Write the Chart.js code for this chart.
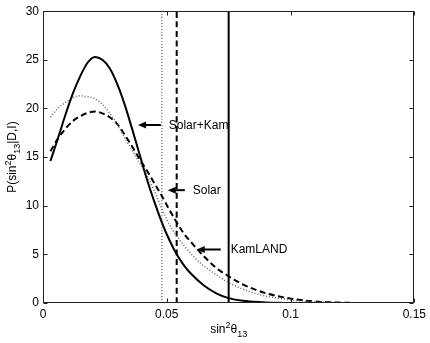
<!DOCTYPE html>
<html>
<head>
<meta charset="utf-8">
<script src="https://cdn.jsdelivr.net/npm/chart.js@4.4.1/dist/chart.umd.min.js"></script>
<style>
  html, body { margin: 0; padding: 0; background: #fff; }
  #wrap { width: 430px; height: 343px; }
</style>
</head>
<body>
<div id="wrap"><canvas id="chart"></canvas></div>
<script>
// sin^2(theta13) grid
const xs = [0.003, 0.006, 0.009, 0.012, 0.015, 0.018, 0.021, 0.024, 0.027, 0.030,
            0.033, 0.036, 0.039, 0.042, 0.045, 0.048, 0.051, 0.054, 0.057, 0.060,
            0.065, 0.070, 0.075, 0.080, 0.085, 0.090, 0.095, 0.100, 0.105, 0.110,
            0.115, 0.120, 0.130, 0.140, 0.150];

// posteriors P(sin^2 theta13 | D,I)
const solarKam = [14.6, 16.9, 19.3, 21.5, 23.3, 24.7, 25.3, 25.0, 24.1, 22.5,
                  20.4, 17.9, 15.3, 12.7, 10.4, 8.3, 6.5, 5.0, 3.85, 2.95,
                  1.8, 1.0, 0.5, 0.25, 0.12, 0.05, 0.02, 0.01, 0, 0,
                  0, 0, 0, 0, 0];
const solar = [19.1, 20.0, 20.6, 21.1, 21.3, 21.2, 21.0, 20.4, 19.5, 18.4,
               17.0, 15.7, 14.4, 13.1, 11.5, 9.7, 8.1, 6.9, 5.9, 5.0,
               3.8, 2.9, 2.1, 1.5, 1.05, 0.7, 0.5, 0.3, 0.2, 0.1,
               0.06, 0.03, 0, 0, 0];
const kamland = [15.6, 16.9, 17.9, 18.7, 19.2, 19.55, 19.7, 19.5, 19.1, 18.4,
                 17.3, 16.1, 14.8, 13.6, 12.3, 11.0, 9.6, 8.3, 7.1, 6.2,
                 4.8, 3.6, 2.75, 2.0, 1.45, 1.0, 0.7, 0.45, 0.28, 0.15,
                 0.08, 0.04, 0, 0, 0];

// upper bounds (vertical lines)
const boundSolar = 0.048;
const boundKamland = 0.054;
const boundSolarKam = 0.075;

const xTicks = [0, 0.05, 0.1, 0.15];
const yTicks = [0, 5, 10, 15, 20, 25, 30];

const FONT = "'Liberation Sans', Arial, Helvetica, sans-serif";

const pts = arr => xs.map((x, i) => ({ x: x, y: arr[i] }));
const vline = x => [{ x: x, y: 0 }, { x: x, y: 30 }];

// arrow annotations, in data units: head (x,y), tail x, text x
const arrows = [
  { text: 'Solar+Kam', x: 0.0384, y: 18.3, tail: 0.0476, tx: 0.0508 },
  { text: 'Solar',     x: 0.0504, y: 11.6, tail: 0.0573, tx: 0.0605 },
  { text: 'KamLAND',   x: 0.0621, y: 5.5,  tail: 0.0718, tx: 0.0758 }
];

function richWidth(ctx, parts) {
  let w = 0;
  parts.forEach(p => {
    ctx.font = (p[1] ? '9px ' : '12px ') + FONT;
    w += ctx.measureText(p[0]).width;
  });
  return w;
}

function drawRich(ctx, parts, cx, baseY) {
  let x = cx - richWidth(ctx, parts) / 2;
  ctx.textAlign = 'left';
  ctx.textBaseline = 'alphabetic';
  parts.forEach(p => {
    ctx.font = (p[1] ? '9px ' : '12px ') + FONT;
    const dy = p[1] === 'sup' ? -5 : p[1] === 'sub' ? 4 : 0;
    ctx.fillText(p[0], x, baseY + dy);
    x += ctx.measureText(p[0]).width;
  });
}

const framePlugin = {
  id: 'frame',
  afterDatasetsDraw(chart) {
    const ctx = chart.ctx;
    const a = chart.chartArea;
    const sx = chart.scales.x, sy = chart.scales.y;
    const L = Math.round(a.left) + 0.5, R = Math.round(a.right) - 0.5;
    const T = Math.round(a.top) + 0.5, B = Math.round(a.bottom) - 0.5;
    ctx.save();
    ctx.strokeStyle = '#222';
    ctx.lineWidth = 1;
    ctx.strokeRect(L, T, R - L, B - T);
    // inward ticks on all sides
    ctx.beginPath();
    xTicks.forEach(v => {
      const px = Math.round(sx.getPixelForValue(v)) + 0.5;
      ctx.moveTo(px, B); ctx.lineTo(px, B - 4);
      ctx.moveTo(px, T); ctx.lineTo(px, T + 4);
    });
    yTicks.forEach(v => {
      const py = Math.round(sy.getPixelForValue(v)) + 0.5;
      ctx.moveTo(L, py); ctx.lineTo(L + 4, py);
      ctx.moveTo(R, py); ctx.lineTo(R - 4, py);
    });
    ctx.stroke();

    // arrows + labels
    ctx.fillStyle = '#000';
    ctx.strokeStyle = '#000';
    arrows.forEach(an => {
      const hx = sx.getPixelForValue(an.x);
      const hy = sy.getPixelForValue(an.y);
      const tx = sx.getPixelForValue(an.tail);
      ctx.lineWidth = 2;
      ctx.beginPath();
      ctx.moveTo(tx, hy); ctx.lineTo(hx + 6, hy);
      ctx.stroke();
      ctx.beginPath();
      ctx.moveTo(hx, hy);
      ctx.lineTo(hx + 8, hy - 3.5);
      ctx.lineTo(hx + 8, hy + 3.5);
      ctx.closePath();
      ctx.fill();
      ctx.font = '12px ' + FONT;
      ctx.textAlign = 'left';
      ctx.textBaseline = 'middle';
      ctx.fillText(an.text, sx.getPixelForValue(an.tx), hy + 0.5);
    });

    // axis titles
    drawRich(ctx, [['sin'], ['2', 'sup'], ['θ'], ['13', 'sub']], (a.left + a.right) / 2, 333);
    ctx.save();
    ctx.translate(16, (a.top + a.bottom) / 2);
    ctx.rotate(-Math.PI / 2);
    drawRich(ctx, [['P(sin'], ['2', 'sup'], ['θ'], ['13', 'sub'], ['|D,I)']], 0, 0);
    ctx.restore();
    ctx.restore();
  }
};

new Chart(document.getElementById('chart'), {
  type: 'line',
  data: {
    datasets: [
      { label: 'Solar+Kam', data: pts(solarKam), borderColor: '#000', borderWidth: 2 },
      { label: 'Solar', data: pts(solar), borderColor: '#666', borderWidth: 1.5, borderDash: [1, 2] },
      { label: 'KamLAND', data: pts(kamland), borderColor: '#000', borderWidth: 2, borderDash: [6, 3.5] },
      { label: 'bound Solar', data: vline(boundSolar), borderColor: '#777', borderWidth: 1.5, borderDash: [1, 2] },
      { label: 'bound KamLAND', data: vline(boundKamland), borderColor: '#000', borderWidth: 2, borderDash: [6, 3.5] },
      { label: 'bound Solar+Kam', data: vline(boundSolarKam), borderColor: '#000', borderWidth: 2 }
    ]
  },
  options: {
    responsive: true,
    maintainAspectRatio: false,
    animation: false,
    layout: { padding: { top: 9, right: 15, left: 0, bottom: 0 } },
    elements: {
      point: { radius: 0 },
      line: { cubicInterpolationMode: 'monotone', fill: false }
    },
    plugins: {
      legend: { display: false },
      tooltip: { enabled: false }
    },
    scales: {
      x: {
        type: 'linear', min: 0, max: 0.15,
        grid: { display: false, drawTicks: false }, border: { display: false },
        afterBuildTicks: s => { s.ticks = xTicks.map(v => ({ value: v })); },
        afterFit: s => { s.height = 40; },
        ticks: {
          padding: 4, color: '#000', maxRotation: 0,
          font: { family: FONT, size: 12 },
          callback: v => String(+v.toFixed(2))
        }
      },
      y: {
        min: 0, max: 30,
        grid: { display: false, drawTicks: false }, border: { display: false },
        afterBuildTicks: s => { s.ticks = yTicks.map(v => ({ value: v })); },
        afterFit: s => { s.width = 43; },
        ticks: {
          padding: 4, color: '#000',
          font: { family: FONT, size: 12 }
        }
      }
    }
  },
  plugins: [framePlugin]
});
</script>
</body>
</html>
